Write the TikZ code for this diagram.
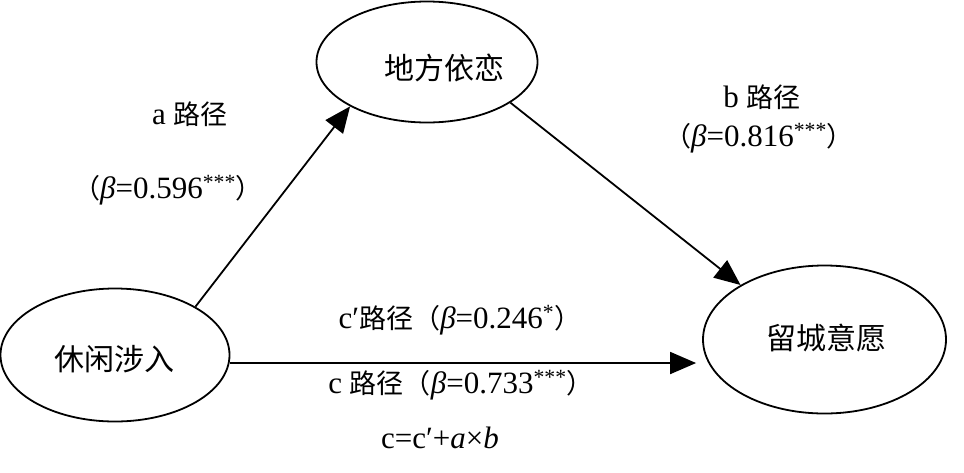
\documentclass[tikz,border=0pt]{standalone}
\usepackage{fontspec}
\setmainfont{Liberation Serif}
\newfontfamily\cjk{Noto Sans CJK SC}
\newcommand\zhtxt[1]{{\cjk\fontsize{27}{32}\selectfont #1}}
\usetikzlibrary{shapes.geometric,arrows.meta}
\tikzset{
  ell/.style={draw, line width=1.8pt, ellipse, inner sep=0pt},
  elltext/.style={inner sep=0pt, font=\fontsize{30}{36}\selectfont\cjk},
  lbl/.style={inner sep=0pt, font=\fontsize{31}{36}\selectfont},
  arr/.style={line width=1.8pt, -{Triangle[length=26pt,width=22pt]}},
}
\begin{document}
\begin{tikzpicture}[x=1pt,y=-1pt]
\useasboundingbox (0,0) rectangle (964,472);
\node[ell, minimum width=221pt, minimum height=121pt] (dfyl) at (427,62) {};
\node[ell, minimum width=229pt, minimum height=133pt] (xxsr) at (115,355) {};
\node[ell, minimum width=243pt, minimum height=148pt] (lcyy) at (824.5,339.5) {};
\node[elltext] (tdfyl) at (444,68) {地方依恋};
\node[elltext] (txxsr) at (114,359) {休闲涉入};
\node[elltext] (tlcyy) at (826,338) {留城意愿};
\draw[arr] (xxsr.31) -- (dfyl.210);
\draw[arr] (dfyl.-26) -- (lcyy.147.8);
\draw[arr, shorten >=6pt] (xxsr.-4.5) -- (xxsr.-4.5 -| lcyy.west);
\node[lbl] (la) at (190,114) {a \zhtxt{路径}};
\node[lbl] (lab) at (168,190) {\zhtxt{（}\textit{β}=0.596\textsuperscript{***}\zhtxt{）}};
\node[lbl] (lb) at (762,97) {b \zhtxt{路径}};
\node[lbl] (lbb) at (759,138) {\zhtxt{（}\textit{β}=0.816\textsuperscript{***}\zhtxt{）}};
\node[lbl] (lcp) at (460,320) {c′\zhtxt{路径（}\textit{β}=0.246\textsuperscript{*}\zhtxt{）}};
\node[lbl] (lc) at (461,385) {c \zhtxt{路径（}\textit{β}=0.733\textsuperscript{***}\zhtxt{）}};
\node[lbl] (lf) at (440,438) {c=c′+\textit{a}×\textit{b}};
\end{tikzpicture}
\end{document}
